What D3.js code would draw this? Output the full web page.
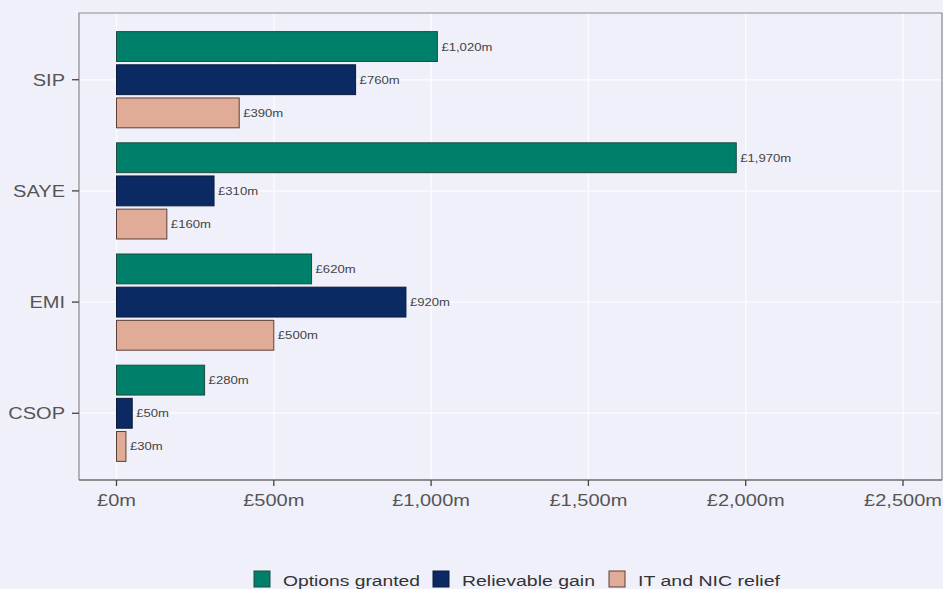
<!DOCTYPE html>
<html><head><meta charset="utf-8">
<script src="https://cdn.jsdelivr.net/npm/d3@7"></script>
<style>
html,body{margin:0;padding:0;background:#F0F0FA;}
text{font-family:"Liberation Sans",Arial,sans-serif;}
</style></head>
<body><svg id="c" width="943" height="589"></svg>
<script>
const categories = ["SIP","SAYE","EMI","CSOP"];
const seriesNames = ["Options granted","Relievable gain","IT and NIC relief"];
const optionsGranted = [1020, 1970, 620, 280];
const relievableGain = [760, 310, 920, 50];
const itNicRelief = [390, 160, 500, 30];
const xTicks = [0, 500, 1000, 1500, 2000, 2500];
const colors = ["#00806A","#0B2A63","#E0AC98"];
const strokes = ["#1d4a3e","#0a1a3a","#5a3e36"];

const seriesValues = [optionsGranted, relievableGain, itNicRelief];
const fmt = v => "£" + d3.format(",")(v) + "m";

const svg = d3.select("#c");
const W = 943, H = 589;
svg.append("rect").attr("width",W).attr("height",H).attr("fill","#F0F0FA");

const L = 79, R = 942, T = 13, B = 480;
const x = d3.scaleLinear().domain([0,2500]).range([116.5, 903]);
const y = d3.scaleBand().domain(categories).range([T,B]).paddingOuter(0.1).paddingInner(0);
const groupFrac = 0.865;
const inner = d3.scaleBand().domain(seriesNames).range([0, y.bandwidth()*groupFrac]).paddingInner(0.1);

const sx = 1.25;
function stext(g, tx, ty, str, anchor){
  const t = g.append("text").attr("transform",`translate(${tx},${ty}) scale(${sx},1)`).text(str);
  if(anchor) t.attr("text-anchor",anchor);
  return t;
}

// panel
svg.append("rect").attr("x",L).attr("y",T).attr("width",R-L).attr("height",B-T)
  .attr("fill","#F0F0FA");
// grid
const grid = svg.append("g");
xTicks.forEach(v=>{
  grid.append("line").attr("x1",x(v)).attr("x2",x(v)).attr("y1",T).attr("y2",B)
    .attr("stroke","#fbfbff").attr("stroke-width",1.5);
});
categories.forEach(c=>{
  const cy = y(c)+y.bandwidth()/2;
  grid.append("line").attr("x1",L).attr("x2",R).attr("y1",cy).attr("y2",cy)
    .attr("stroke","#fbfbff").attr("stroke-width",1.5);
});
// border top/left/right
svg.append("path").attr("d",`M${L},${B}V${T}H${R}V${B}`).attr("fill","none")
  .attr("stroke","#8a8a8a").attr("stroke-width",1.2);
svg.append("line").attr("x1",L).attr("x2",R).attr("y1",B).attr("y2",B)
  .attr("stroke","#6e6e6e").attr("stroke-width",1.6);

// bars
const bars = svg.append("g");
categories.forEach((c,ci)=>{
  const y0 = y(c) + y.bandwidth()*(1-groupFrac)/2;
  seriesNames.forEach((s,si)=>{
    const v = seriesValues[si][ci];
    const by = y0 + inner(s);
    const bh = inner.bandwidth();
    bars.append("rect").attr("x",x(0)).attr("y",by).attr("width",x(v)-x(0)).attr("height",bh)
      .attr("fill",colors[si]).attr("stroke",strokes[si]).attr("stroke-width",1);
    stext(bars, x(v)+4, by+bh/2+4, fmt(v)).attr("font-size",10.5).attr("fill","#444");
  });
});

// y axis
const ya = svg.append("g");
categories.forEach(c=>{
  const cy = y(c)+y.bandwidth()/2;
  ya.append("line").attr("x1",L-7).attr("x2",L).attr("y1",cy).attr("y2",cy)
    .attr("stroke","#444").attr("stroke-width",1.3);
  stext(ya, L-14, cy+6, c, "end").attr("font-size",16).attr("fill","#555");
});
// x axis
const xa = svg.append("g");
xTicks.forEach(v=>{
  xa.append("line").attr("x1",x(v)).attr("x2",x(v)).attr("y1",B).attr("y2",B+6)
    .attr("stroke","#444").attr("stroke-width",1.3);
  stext(xa, x(v), B+26, fmt(v), "middle").attr("font-size",16).attr("fill","#555");
});

// legend
const lg = svg.append("g");
const items = [
  {x:254, tx:283, w:137},
  {x:433, tx:462, w:133},
  {x:609, tx:638, w:142}
];
seriesNames.forEach((s,i)=>{
  lg.append("rect").attr("x",items[i].x).attr("y",571).attr("width",16).attr("height",16)
    .attr("fill",colors[i]).attr("stroke",strokes[i]).attr("stroke-width",1);
  lg.append("text").attr("x",items[i].tx).attr("y",585.5).attr("font-size",15.5)
    .attr("fill","#333").attr("textLength",items[i].w).attr("lengthAdjust","spacingAndGlyphs").text(s);
});
</script></body></html>
